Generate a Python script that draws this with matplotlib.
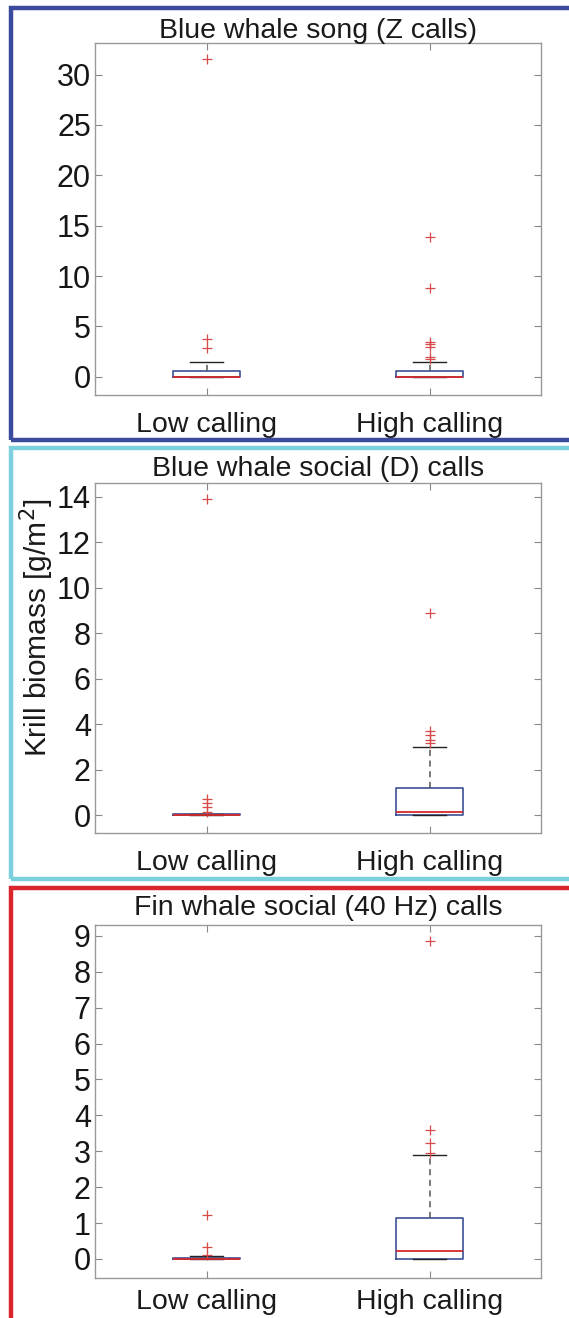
import matplotlib.pyplot as plt
from matplotlib.patches import Rectangle

# Box statistics (Low calling, High calling)
titles = ['Blue whale song (Z calls)', 'Blue whale social (D) calls',
          'Fin whale social (40 Hz) calls']
categories = ['Low calling', 'High calling']

q1 = [[0.0, 0.0], [0.0, 0.02], [0.0, 0.0]]
q3 = [[0.6, 0.6], [0.05, 1.21], [0.03, 1.15]]
medians = [[0.0, 0.0], [0.02, 0.13], [0.0, 0.22]]
whislo = [[0.0, 0.0], [0.0, 0.0], [0.0, 0.0]]
whishi = [[1.49, 1.43], [0.05, 2.99], [0.08, 2.90]]
fliers = [
    [[31.5, 3.8, 2.9], [13.9, 8.8, 3.47, 3.24, 2.98, 1.98, 1.73]],
    [[13.9, 0.71, 0.52, 0.34, 0.15], [8.88, 3.68, 3.53, 3.28, 3.19]],
    [[1.23, 0.34, 0.11], [8.86, 3.59, 3.24, 2.94]],
]
ylims = [(-1.8, 33.1), (-0.79, 14.59), (-0.53, 9.3)]
yticks = [range(0, 31, 5), range(0, 15, 2), range(0, 10, 1)]

frame_colors = ['#3a4a9c', '#7ccfdc', '#d9252b']
box_color = '#3c4f96'

fig = plt.figure(figsize=(5.69, 13.18), dpi=100)
plt.rcParams['font.family'] = ['Liberation Sans', 'DejaVu Sans']

H = 1318.0
W = 569.0
# axes pixel extents (top, bottom)
axes_px = [(43.3, 395), (483.3, 833), (925, 1278)]
frames_px = [(8, 440), (448, 879), (888, 1330)]
title_pads = [4, 5, 7]
xlabel_pads = [12, 12, 8]

for i in range(3):
    top, bot = axes_px[i]
    ax = fig.add_axes([95 / W, 1 - bot / H, (541 - 95) / W, (bot - top) / H])
    stats = []
    for j in range(2):
        stats.append(dict(med=medians[i][j], q1=q1[i][j], q3=q3[i][j],
                          whislo=whislo[i][j], whishi=whishi[i][j],
                          fliers=fliers[i][j], label=categories[j]))
    ax.bxp(stats, positions=[1, 2], widths=0.3, showfliers=True,
           boxprops=dict(color=box_color, linewidth=1.2),
           medianprops=dict(color='#d42a2a', linewidth=1.3),
           whiskerprops=dict(color='#555555', linewidth=1.1, linestyle=(0, (4, 3))),
           capprops=dict(color='#222222', linewidth=1.0),
           capwidths=0.15,
           flierprops=dict(marker='+', markeredgecolor='#d84a4a',
                           markersize=7, markeredgewidth=0.9, linestyle='none'))
    ax.set_xlim(0.5, 2.5)
    ax.set_ylim(*ylims[i])
    ax.set_yticks(list(yticks[i]))
    ax.set_xticks([1, 2])
    ax.set_xticklabels(categories, fontsize=20.5, color='#1a1a1a')
    ax.tick_params(axis='y', labelsize=22, labelcolor='#161616', direction='in',
                   right=True, length=5, color='#888888', pad=3)
    ax.tick_params(axis='x', direction='in', top=True, length=5,
                   color='#888888', pad=xlabel_pads[i])
    for s in ax.spines.values():
        s.set_color('#999999')
        s.set_linewidth(1.0)
    ax.set_title(titles[i], fontsize=20.5, pad=title_pads[i], color='#1a1a1a')
    if i == 1:
        ax.set_ylabel('Krill biomass [g/m$^2$]', fontsize=21.5, color='#1a1a1a')
        ax.yaxis.set_label_coords(-0.088, 0.586)

    ftop, fbot = frames_px[i]
    fig.patches.append(Rectangle((11 / W, 1 - fbot / H), 1.0, (fbot - ftop) / H,
                                 transform=fig.transFigure, fill=False,
                                 edgecolor=frame_colors[i], linewidth=3.2,
                                 clip_on=False))

fig.savefig('out.png', dpi=100)
